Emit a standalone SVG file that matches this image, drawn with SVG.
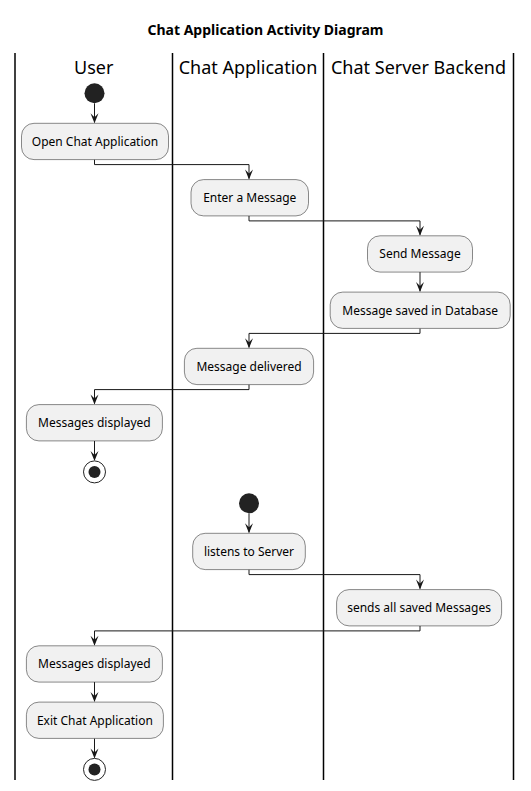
<svg xmlns="http://www.w3.org/2000/svg" width="531" height="791" viewBox="0 0 531 791">
<defs>
<style>
.title{font-family:"Noto Sans","DejaVu Sans",sans-serif;font-size:14px;font-weight:bold;fill:#000;text-anchor:middle}
.lane{font-family:"Noto Sans","DejaVu Sans",sans-serif;font-size:18px;fill:#000;text-anchor:middle}
.lbl{font-family:"Noto Sans","DejaVu Sans",sans-serif;font-size:12px;fill:#000;text-anchor:middle}
.box{fill:#F1F1F1;stroke:#181818;stroke-width:0.5}
.sep{stroke:#000;stroke-width:1.5}
.edge{fill:none;stroke:#181818;stroke-width:1}
.start{fill:#222222}
.endo{fill:none;stroke:#222222;stroke-width:1}
</style>
<marker id="arr" viewBox="0 0 10 12" refX="5" refY="10" markerWidth="10" markerHeight="12" markerUnits="userSpaceOnUse" orient="auto-start-reverse">
<path d="M0,0 L5,10 L10,0 L5,4 Z" fill="#181818" transform="rotate(0)"/>
</marker>
</defs>
<rect width="531" height="791" fill="#FFFFFF"/>
<text class="title" x="265.5" y="34.5">Chat Application Activity Diagram</text>

<g id="lanes">
<line class="sep" x1="15" y1="53" x2="15" y2="780"/>
<line class="sep" x1="172.5" y1="53" x2="172.5" y2="780"/>
<line class="sep" x1="323.5" y1="53" x2="323.5" y2="780"/>
<line class="sep" x1="513.5" y1="53" x2="513.5" y2="780"/>
<text class="lane" x="93.75" y="73.5">User</text>
<text class="lane" x="248" y="73.5">Chat Application</text>
<text class="lane" x="418.5" y="73.5">Chat Server Backend</text>
</g>

<g id="connectors">
<path class="edge" d="M94.5,103.3 V122.3"/>
<path d="M90.5,113.3 L94.5,123.3 L98.5,113.3 L94.5,117.3 Z" fill="#181818"/>
<path class="edge" d="M94.5,159.6 V164.6 H249 V178.6"/>
<path d="M245,169.6 L249,179.6 L253,169.6 L249,173.6 Z" fill="#181818"/>
<path class="edge" d="M249,215.9 V220.9 H420 V234.8"/>
<path d="M416,225.8 L420,235.8 L424,225.8 L420,229.8 Z" fill="#181818"/>
<path class="edge" d="M420,272.1 V291.1"/>
<path d="M416,282.1 L420,292.1 L424,282.1 L420,286.1 Z" fill="#181818"/>
<path class="edge" d="M420,328.4 V333.4 H249 V347.3"/>
<path d="M245,338.3 L249,348.3 L253,338.3 L249,342.3 Z" fill="#181818"/>
<path class="edge" d="M249,384.6 V389.6 H94.5 V403.6"/>
<path d="M90.5,394.6 L94.5,404.6 L98.5,394.6 L94.5,398.6 Z" fill="#181818"/>
<path class="edge" d="M94.5,440.9 V459.9"/>
<path d="M90.5,450.9 L94.5,460.9 L98.5,450.9 L94.5,454.9 Z" fill="#181818"/>
<path class="edge" d="M249,513.3 V532.3"/>
<path d="M245,523.3 L249,533.3 L253,523.3 L249,527.3 Z" fill="#181818"/>
<path class="edge" d="M249,569.6 V574.6 H420 V588.6"/>
<path d="M416,579.6 L420,589.6 L424,579.6 L420,583.6 Z" fill="#181818"/>
<path class="edge" d="M420,625.9 V630.9 H94.5 V644.8"/>
<path d="M90.5,635.8 L94.5,645.8 L98.5,635.8 L94.5,639.8 Z" fill="#181818"/>
<path class="edge" d="M94.5,682.1 V701.1"/>
<path d="M90.5,692.1 L94.5,702.1 L98.5,692.1 L94.5,696.1 Z" fill="#181818"/>
<path class="edge" d="M94.5,738.4 V757.4"/>
<path d="M90.5,748.4 L94.5,758.4 L98.5,748.4 L94.5,752.4 Z" fill="#181818"/>
</g>

<g id="start1"><circle class="start" cx="94.5" cy="93.3" r="10"/></g>
<g id="open_chat"><rect class="box" x="21.5" y="123.3" width="147" height="36.3" rx="12.5"/><text class="lbl" x="95" y="145.8">Open Chat Application</text></g>
<g id="enter_message"><rect class="box" x="191" y="179.6" width="117.5" height="36.3" rx="12.5"/><text class="lbl" x="249.75" y="202.1">Enter a Message</text></g>
<g id="send_message"><rect class="box" x="367.5" y="235.8" width="105" height="36.3" rx="12.5"/><text class="lbl" x="420" y="258.3">Send Message</text></g>
<g id="message_saved"><rect class="box" x="330.2" y="292.1" width="180" height="36.3" rx="12.5"/><text class="lbl" x="420.2" y="314.6">Message saved in Database</text></g>
<g id="message_delivered"><rect class="box" x="184.4" y="348.3" width="129.2" height="36.3" rx="12.5"/><text class="lbl" x="249" y="370.8">Message delivered</text></g>
<g id="messages_displayed1"><rect class="box" x="26.4" y="404.6" width="136" height="36.3" rx="12.5"/><text class="lbl" x="94.4" y="427.1">Messages displayed</text></g>
<g id="end1"><circle class="endo" cx="94.5" cy="471.9" r="11"/><circle class="start" cx="94.5" cy="471.9" r="6"/></g>

<g id="start2"><circle class="start" cx="249" cy="503.3" r="10"/></g>
<g id="listens"><rect class="box" x="192.7" y="533.3" width="112.6" height="36.3" rx="12.5"/><text class="lbl" x="249" y="555.8">listens to Server</text></g>
<g id="sends_all"><rect class="box" x="336.6" y="589.6" width="165" height="36.3" rx="12.5"/><text class="lbl" x="419.1" y="612.1">sends all saved Messages</text></g>
<g id="messages_displayed2"><rect class="box" x="26.4" y="645.8" width="136" height="36.3" rx="12.5"/><text class="lbl" x="94.4" y="668.3">Messages displayed</text></g>
<g id="exit_chat"><rect class="box" x="26.4" y="702.1" width="137" height="36.3" rx="12.5"/><text class="lbl" x="94.9" y="724.6">Exit Chat Application</text></g>
<g id="end2"><circle class="endo" cx="94.5" cy="769.4" r="11"/><circle class="start" cx="94.5" cy="769.4" r="6"/></g>
</svg>
